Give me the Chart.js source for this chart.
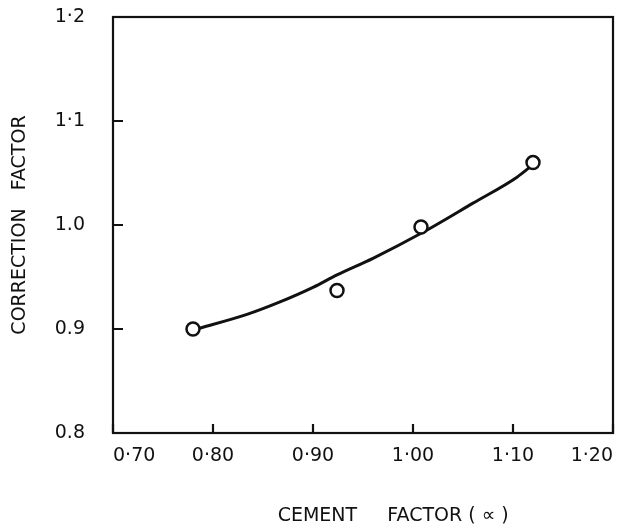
<!DOCTYPE html>
<html>
<head>
<meta charset="utf-8">
<style>
  body { margin: 0; background: #fff; }
</style>
</head>
<body>
<canvas id="myChart" width="634" height="526"></canvas>
<script src="https://cdn.jsdelivr.net/npm/chart.js"></script>
<script>
    // measured points (cement factor vs correction factor)
    const cementFactor = [0.78, 0.924, 1.008, 1.12];
    const correctionFactor = [0.90, 0.937, 0.998, 1.06];

    // fitted curve
    const curveX = [0.78, 0.834, 0.867, 0.90, 0.924, 0.96, 1.01, 1.06, 1.104, 1.12];
    const curveY = [0.899, 0.914, 0.926, 0.940, 0.952, 0.968, 0.993, 1.021, 1.046, 1.058];

    const xTickLabels = ['0·70', '0·80', '0·90', '1·00', '1·10', '1·20'];
    const yTickLabels = ['0.8', '0.9', '1.0', '1·1', '1·2'];

    const ink = '#111';
    const tickFont = { family: "'DejaVu Sans', sans-serif", size: 19 };
    const titleFont = { family: "'DejaVu Sans', sans-serif", size: 19, lineHeight: 1 };

    // frame + inward tick marks
    const framePlugin = {
        id: 'frame',
        afterDraw(chart) {
            const { ctx, chartArea: a, scales } = chart;
            ctx.save();
            ctx.strokeStyle = ink;
            ctx.lineWidth = 2.2;
            ctx.strokeRect(a.left, a.top, a.right - a.left, a.bottom - a.top);
            ctx.beginPath();
            scales.x.ticks.forEach(t => {
                const px = scales.x.getPixelForValue(t.value);
                ctx.moveTo(px, a.bottom);
                ctx.lineTo(px, a.bottom - 9);
            });
            scales.y.ticks.forEach(t => {
                const py = scales.y.getPixelForValue(t.value);
                ctx.moveTo(a.left, py);
                ctx.lineTo(a.left + 10, py);
            });
            ctx.stroke();
            ctx.restore();
        }
    };

    new Chart(document.getElementById('myChart'), {
        type: 'scatter',
        data: {
            datasets: [
                {
                    label: 'points',
                    data: cementFactor.map((x, i) => ({ x: x, y: correctionFactor[i] })),
                    pointRadius: 6.5,
                    pointBorderWidth: 2.5,
                    pointBorderColor: ink,
                    pointBackgroundColor: '#fff',
                    showLine: false,
                    order: 0
                },
                {
                    label: 'curve',
                    data: curveX.map((x, i) => ({ x: x, y: curveY[i] })),
                    showLine: true,
                    pointRadius: 0,
                    borderColor: ink,
                    borderWidth: 3,
                    cubicInterpolationMode: 'monotone',
                    order: 1
                }
            ]
        },
        options: {
            responsive: false,
            animation: false,
            layout: { padding: { top: 17, right: 21, left: 0, bottom: 0 } },
            plugins: {
                legend: { display: false },
                tooltip: { enabled: false }
            },
            scales: {
                x: {
                    type: 'linear',
                    min: 0.7,
                    max: 1.2,
                    afterFit: s => { s.height = 93; s.paddingLeft = 0; s.paddingRight = 0; },
                    grid: { display: false, drawTicks: false },
                    border: { display: false },
                    ticks: {
                        stepSize: 0.1,
                        padding: 12,
                        align: 'inner',
                        color: ink,
                        font: tickFont,
                        maxRotation: 0,
                        callback: (v, i) => xTickLabels[i]
                    },
                    title: {
                        display: true,
                        text: '          CEMENT     FACTOR ( ∝ )',
                        color: ink,
                        font: titleFont,
                        padding: { top: 0, bottom: 0 }
                    }
                },
                y: {
                    min: 0.8,
                    max: 1.2,
                    afterFit: s => { s.width = 113; s.paddingTop = 0; s.paddingBottom = 0; },
                    grid: { display: false, drawTicks: false },
                    border: { display: false },
                    ticks: {
                        stepSize: 0.1,
                        padding: 28,
                        color: ink,
                        font: tickFont,
                        callback: (v, i) => yTickLabels[i]
                    },
                    title: {
                        display: true,
                        text: 'CORRECTION   FACTOR',
                        color: ink,
                        font: titleFont,
                        padding: { top: 11, bottom: 0 }
                    }
                }
            }
        },
        plugins: [framePlugin]
    });
</script>
</body>
</html>
